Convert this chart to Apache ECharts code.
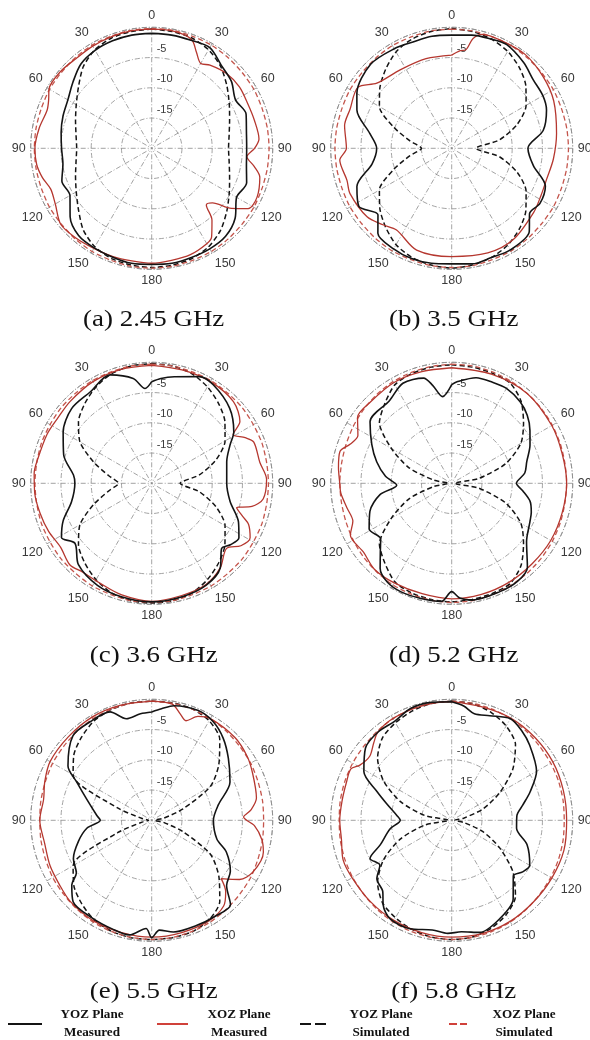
<!DOCTYPE html>
<html>
<head>
<meta charset="utf-8">
<script src="https://cdn.jsdelivr.net/npm/echarts/dist/echarts.min.js"></script>
<style>
  html, body { margin: 0; padding: 0; background: #ffffff; }
  #chart { width: 590px; height: 1040px; }
</style>
</head>
<body>
<div id="chart"></div>
<script>
// ---- angle grid (degrees, clockwise from the top) used by the simulated patterns ----
const ANGLES = [0,10,20,30,40,50,60,70,80,90,100,110,120,130,140,150,160,170,180,
                190,200,210,220,230,240,250,260,270,280,290,300,310,320,330,340,350,360];

// ---- normalised gain in dB, simulated (one value per ANGLES entry) ----
const SIM_YOZ_A = [-0.3,-0.4,-0.6,-1.2,-2.3,-3.8,-5.2,-6.3,-7.0,-7.3,-7.0,-6.3,-5.2,-3.8,-2.3,-1.2,-0.6,-0.4,-0.3,
                   -0.4,-0.6,-1.2,-2.4,-4.2,-5.6,-6.6,-7.3,-7.6,-7.3,-6.6,-5.6,-4.2,-2.4,-1.2,-0.6,-0.4,-0.3];
const SIM_XOZ_A = [-0.2,-0.2,-0.3,-0.3,-0.4,-0.5,-0.5,-0.6,-0.6,-0.6,-0.6,-0.6,-0.5,-0.5,-0.4,-0.3,-0.3,-0.2,-0.2,
                   -0.2,-0.3,-0.3,-0.4,-0.5,-0.5,-0.6,-0.6,-0.6,-0.6,-0.6,-0.5,-0.5,-0.4,-0.3,-0.3,-0.2,-0.2];
const SIM_YOZ_B = [-0.2,-0.4,-0.8,-1.5,-2.6,-4.0,-5.8,-8.5,-12.0,-16.0,-12.0,-8.5,-5.8,-4.0,-2.6,-1.5,-0.8,-0.4,-0.2,
                   -0.4,-0.8,-1.6,-3.0,-4.5,-6.2,-9.8,-13.0,-15.0,-13.0,-9.8,-6.2,-4.5,-3.0,-1.6,-0.8,-0.4,-0.2];
const SIM_XOZ_B = [-0.3,-0.3,-0.4,-0.4,-0.5,-0.6,-0.6,-0.7,-0.7,-0.7,-0.7,-0.7,-0.6,-0.6,-0.5,-0.4,-0.4,-0.3,-0.3,
                   -0.3,-0.4,-0.4,-0.5,-0.6,-0.6,-0.7,-0.7,-0.7,-0.7,-0.7,-0.6,-0.6,-0.5,-0.4,-0.4,-0.3,-0.3];
const SIM_YOZ_C = [-0.2,-0.3,-0.7,-1.6,-2.8,-4.2,-6.0,-8.7,-12.0,-15.3,-12.0,-8.7,-6.0,-4.2,-2.8,-1.6,-0.7,-0.3,-0.2,
                   -0.3,-0.7,-1.6,-2.8,-4.2,-6.3,-9.8,-12.8,-14.5,-12.8,-9.8,-6.3,-4.2,-2.8,-1.6,-0.7,-0.3,-0.2];
const SIM_XOZ_C = [-0.3,-0.3,-0.4,-0.4,-0.5,-0.5,-0.6,-0.6,-0.7,-0.7,-0.7,-0.6,-0.6,-0.5,-0.5,-0.4,-0.4,-0.3,-0.3,
                   -0.3,-0.4,-0.4,-0.5,-0.5,-0.6,-0.6,-0.7,-0.7,-0.7,-0.6,-0.6,-0.5,-0.5,-0.4,-0.4,-0.3,-0.3];
const SIM_YOZ_D = [-0.4,-0.5,-0.6,-0.8,-2.2,-4.5,-6.8,-10.5,-15.5,-19.5,-15.5,-10.5,-6.8,-4.5,-2.2,-0.8,-0.6,-0.5,-0.4,
                   -0.5,-0.7,-1.2,-2.8,-4.4,-8.5,-12.5,-17.0,-19.5,-17.0,-12.5,-8.5,-4.4,-2.8,-1.2,-0.7,-0.5,-0.4];
const SIM_XOZ_D = [-0.3,-0.3,-0.4,-0.5,-0.6,-0.7,-0.8,-0.9,-1.0,-1.0,-1.0,-0.9,-0.8,-0.7,-0.6,-0.5,-0.4,-0.3,-0.3,
                   -0.4,-0.5,-0.6,-0.8,-1.0,-1.2,-1.4,-1.5,-1.5,-1.5,-1.4,-1.2,-1.0,-0.8,-0.6,-0.5,-0.4,-0.3];
const SIM_YOZ_E = [-0.3,-0.3,-0.4,-1.0,-2.5,-5.5,-8.8,-14.5,-18.0,-19.5,-18.0,-14.5,-8.8,-5.5,-2.5,-1.0,-0.4,-0.3,-0.3,
                   -0.3,-0.5,-1.0,-2.0,-3.2,-5.0,-14.0,-18.5,-19.5,-18.5,-14.0,-5.0,-3.2,-2.0,-1.0,-0.5,-0.3,-0.3];
const SIM_XOZ_E = [-0.3,-0.35,-0.45,-0.6,-0.8,-1.0,-1.1,-1.3,-1.4,-1.5,-1.4,-1.3,-1.1,-1.0,-0.8,-0.6,-0.45,-0.35,-0.3,
                   -0.35,-0.45,-0.6,-0.8,-1.0,-1.1,-1.3,-1.4,-1.5,-1.4,-1.3,-1.1,-1.0,-0.8,-0.6,-0.45,-0.35,-0.3];
const SIM_YOZ_F = [-0.3,-0.4,-1.0,-2.0,-3.6,-6.8,-10.8,-14.5,-18.0,-19.5,-18.0,-14.5,-10.8,-6.8,-3.6,-2.0,-1.0,-0.4,-0.3,
                   -0.4,-0.8,-1.4,-2.2,-4.0,-7.0,-11.0,-15.5,-19.5,-15.5,-11.0,-7.0,-4.0,-2.2,-1.4,-0.8,-0.4,-0.3];
const SIM_XOZ_F = [-0.3,-0.35,-0.45,-0.6,-0.8,-1.0,-1.1,-1.2,-1.3,-1.4,-1.3,-1.2,-1.1,-1.0,-0.8,-0.6,-0.45,-0.35,-0.3,
                   -0.35,-0.45,-0.6,-0.8,-1.0,-1.1,-1.2,-1.3,-1.4,-1.3,-1.2,-1.1,-1.0,-0.8,-0.6,-0.45,-0.35,-0.3];

// ---- normalised gain in dB, measured: [angle (deg), gain (dB)] ----
const MEAS_YOZ_A = [[0,-1.0],[10,-1.0],[20,-1.0],[30,-0.8],[40,-2.1],[50,-2.8],[60,-4.0],[70,-3.4],[80,-4.1],[90,-4.3],
  [100,-4.1],[110,-3.3],[120,-3.8],[130,-2.0],[140,-1.0],[150,-0.8],[160,-0.8],[170,-0.7],[180,-0.8],[190,-0.7],
  [200,-0.9],[210,-1.0],[220,-1.2],[230,-2.4],[240,-4.4],[250,-4.2],[260,-5.1],[270,-5.1],[280,-4.8],[290,-4.4],
  [300,-4.0],[310,-3.0],[320,-1.8],[330,-1.3],[340,-1.1],[350,-1.0],[360,-1.0]];
const MEAS_XOZ_A = [[0,-0.3],[10,-0.3],[20,-0.8],[25,-2.5],[30,-3.8],[35,-3.2],[45,-2.5],[55,-2.3],[65,-2.5],[75,-2.4],
  [85,-2.2],[90,-3.0],[95,-4.2],[100,-2.8],[105,-1.5],[115,-0.8],[122,-1.2],[127,-3.5],[132,-6.5],[136,-7.0],
  [140,-4.5],[146,-2.3],[150,-1.8],[160,-1.3],[170,-1.2],[180,-1.0],[190,-1.1],[200,-1.0],[210,-0.9],[220,-0.6],
  [230,-0.4],[240,-1.6],[248,-2.0],[255,-1.3],[262,-0.8],[270,-0.7],[280,-1.1],[290,-1.6],[295,-1.2],[300,-0.4],
  [310,-0.3],[320,-0.6],[330,-0.5],[340,-0.4],[350,-0.3],[360,-0.3]];

const MEAS_YOZ_B = [[0,-1.3],[10,-1.0],[20,-0.8],[28,-0.6],[40,-1.5],[50,-2.4],[60,-2.6],[68,-3.1],[79,-4.6],[90,-7.4],
  [102,-6.2],[112,-3.3],[122,-2.8],[130,-3.2],[137,-1.2],[150,-0.6],[160,-0.8],[170,-0.6],[180,-0.9],[190,-0.7],
  [200,-0.6],[210,-0.8],[221,-1.4],[228,-3.6],[238,-1.9],[248,-3.1],[259,-6.6],[270,-7.6],[280,-6.3],[292,-3.1],
  [300,-1.9],[316,-0.7],[330,-1.0],[340,-1.3],[350,-1.2],[360,-1.3]];
const MEAS_XOZ_B = [[0,-4.6],[5,-3.8],[8,-3.6],[11,-1.5],[15,-0.5],[25,-0.4],[38,-0.3],[52,-0.8],[65,-1.4],[82,-2.5],
  [96,-3.1],[108,-3.5],[118,-3.3],[128,-2.8],[146,-1.8],[161,-1.7],[180,-2.1],[199,-2.2],[214,-3.7],[222,-3.0],
  [231,-2.0],[246,-1.6],[253,-1.9],[264,-1.4],[270,-2.6],[282,-1.9],[291,-2.0],[303,-1.5],[311,-3.6],[327,-4.5],
  [344,-4.6],[360,-4.6]];

const MEAS_YOZ_C = [[0,-3.2],[5,-2.6],[12,-2.0],[24,-0.7],[32,-0.8],[46,-2.1],[58,-4.0],[64,-5.6],[74,-7.1],[90,-7.6],
  [103,-6.7],[114,-4.3],[122,-3.0],[128,-3.5],[133,-4.2],[141,-2.0],[152,-0.9],[165,-0.6],[180,-0.4],[195,-0.6],
  [208,-0.9],[222,-1.9],[232,-3.9],[239,-2.6],[247,-4.1],[257,-6.4],[270,-7.3],[276,-7.0],[288,-4.7],[300,-3.1],
  [313,-1.9],[326,-1.8],[339,-0.8],[350,-2.4],[356,-4.3],[360,-3.2]];
const MEAS_XOZ_C = [[0,-0.5],[15,-0.6],[30,-0.6],[45,-0.9],[55,-2.2],[59,-4.3],[64,-2.8],[68,-1.8],[79,-1.8],[88,-1.0],
  [98,-1.4],[103,-3.0],[106,-5.4],[110,-4.0],[113,-2.6],[119,-1.4],[125,-2.0],[131,-3.6],[141,-2.0],[152,-1.0],
  [165,-0.8],[180,-0.5],[195,-0.9],[207,-1.4],[218,-1.4],[225,-0.9],[235,-1.6],[245,-1.2],[255,-0.9],[265,-0.6],
  [275,-0.5],[281,-0.7],[295,-0.9],[305,-1.1],[315,-0.9],[330,-0.6],[345,-0.5],[360,-0.5]];

const MEAS_YOZ_D = [[0,-3.7],[3,-3.2],[13,-2.1],[22,-2.0],[30,-1.9],[40,-2.4],[48,-3.2],[56,-4.4],[64,-5.6],[74,-7.1],
  [82,-7.8],[90,-9.3],[96,-8.2],[103,-6.7],[110,-6.0],[116,-5.6],[128,-4.3],[138,-1.3],[146,-0.5],[156,-0.4],
  [170,-0.4],[176,-1.0],[180,-2.1],[185,-0.4],[195,-0.3],[205,-0.2],[213,-0.5],[220,-1.6],[226,-3.6],[232,-5.1],
  [241,-4.4],[251,-5.7],[261,-8.0],[268,-10.9],[276,-9.0],[286,-7.1],[296,-5.3],[307,-3.1],[323,-2.9],[334,-1.6],
  [345,-2.0],[349,-3.5],[354,-5.6],[360,-3.7]];
const MEAS_XOZ_D = [[0,-0.9],[20,-0.8],[40,-0.6],[60,-0.9],[75,-1.1],[90,-1.0],[105,-1.1],[120,-1.1],[135,-1.2],[150,-1.1],
  [165,-1.0],[180,-0.9],[195,-1.1],[210,-1.0],[222,-0.9],[232,-1.5],[243,-1.2],[249,-2.5],[257,-2.2],[265,-1.6],
  [270,-1.5],[278,-1.1],[286,-0.8],[291,-2.0],[297,-2.6],[305,-1.0],[315,-1.0],[330,-0.8],[345,-0.9],[360,-0.9]];

const MEAS_YOZ_E = [[0,-2.1],[5,-1.5],[11,-0.7],[23,-0.3],[32,-0.8],[41,-2.0],[51,-3.7],[64,-5.6],[77,-8.7],[90,-9.8],
  [106,-8.8],[113,-6.6],[123,-4.5],[131,-3.6],[137,-0.9],[147,-1.0],[157,-1.1],[169,-1.2],[176,-1.8],[180,-0.6],
  [183,-2.1],[191,-0.7],[200,-0.9],[211,-1.1],[224,-1.3],[231,-3.0],[235,-4.8],[244,-5.6],[254,-7.4],[263,-9.2],
  [270,-11.5],[275,-10.9],[288,-8.7],[297,-6.1],[303,-3.5],[317,-0.9],[328,-0.8],[339,-0.8],[346,-2.7],[354,-2.3],
  [360,-2.1]];
const MEAS_XOZ_E = [[0,-0.3],[10,-0.5],[15,-1.8],[19,-2.6],[24,-1.2],[30,-0.6],[45,-0.6],[56,-1.0],[65,-1.6],[78,-2.3],
  [84,-3.5],[88,-4.8],[93,-3.0],[100,-1.5],[106,-0.8],[117,-1.2],[124,-2.5],[130,-5.0],[134,-3.0],[140,-1.5],
  [150,-0.9],[165,-0.8],[180,-0.7],[195,-0.8],[210,-0.8],[225,-1.0],[235,-1.4],[246,-1.6],[258,-1.9],[270,-1.5],
  [281,-1.8],[290,-1.2],[300,-0.6],[315,-0.5],[330,-0.3],[345,-0.3],[360,-0.3]];

const MEAS_YOZ_F = [[0,-0.4],[6,-1.0],[12,-2.0],[20,-1.6],[30,-0.6],[38,-1.2],[46,-2.1],[60,-3.8],[70,-6.2],[78,-8.0],
  [86,-9.2],[97,-9.2],[108,-6.9],[120,-5.1],[126,-5.5],[132,-6.3],[142,-3.5],[154,-1.9],[166,-0.9],[175,-1.5],
  [182,-1.3],[190,-1.6],[201,-0.8],[212,-0.8],[219,-2.0],[224,-3.6],[232,-4.3],[238,-6.0],[245,-5.1],[251,-7.5],
  [262,-9.7],[270,-11.5],[275,-10.9],[284,-9.0],[291,-6.8],[299,-3.4],[310,-1.4],[320,-1.0],[330,-1.1],[340,-0.3],
  [350,-0.2],[360,-0.4]];
const MEAS_XOZ_F = [[0,-0.4],[15,-0.6],[30,-0.5],[45,-0.6],[60,-0.7],[75,-0.9],[90,-1.0],[105,-0.8],[120,-0.9],[135,-0.9],
  [150,-0.7],[165,-0.6],[180,-0.7],[195,-0.8],[210,-0.9],[225,-1.0],[240,-1.0],[250,-0.9],[260,-1.5],[270,-1.5],
  [280,-1.6],[290,-1.5],[297,-1.3],[301,-2.3],[308,-2.8],[315,-1.8],[320,-1.0],[328,-0.6],[340,-0.5],[350,-0.4],
  [360,-0.4]];

// ---- panel captions and radial scale ----
const PANEL_TITLES = ['(a) 2.45 GHz', '(b) 3.5 GHz', '(c) 3.6 GHz', '(d) 5.2 GHz', '(e) 5.5 GHz', '(f) 5.8 GHz'];
const RADIUS_MIN = -20, RADIUS_MAX = 0, RADIUS_STEP = 5;
const ANGLE_STEP = 30;
const SERIES_NAMES = ['YOZ Plane Measured', 'XOZ Plane Measured', 'YOZ Plane Simulated', 'XOZ Plane Simulated'];
const LEGEND_LINES = [['YOZ Plane', 'Measured'], ['XOZ Plane', 'Measured'], ['YOZ Plane', 'Simulated'], ['XOZ Plane', 'Simulated']];

const PANELS = [
  { meas: [MEAS_YOZ_A, MEAS_XOZ_A], sim: [SIM_YOZ_A, SIM_XOZ_A] },
  { meas: [MEAS_YOZ_B, MEAS_XOZ_B], sim: [SIM_YOZ_B, SIM_XOZ_B] },
  { meas: [MEAS_YOZ_C, MEAS_XOZ_C], sim: [SIM_YOZ_C, SIM_XOZ_C] },
  { meas: [MEAS_YOZ_D, MEAS_XOZ_D], sim: [SIM_YOZ_D, SIM_XOZ_D] },
  { meas: [MEAS_YOZ_E, MEAS_XOZ_E], sim: [SIM_YOZ_E, SIM_XOZ_E] },
  { meas: [MEAS_YOZ_F, MEAS_XOZ_F], sim: [SIM_YOZ_F, SIM_XOZ_F] }
];

// ---- layout ----
const COL_X = [151.7, 451.7];
const ROW_Y = [148.3, 483.3, 820.3];
const CAPTION_Y = [320, 656, 992];
const CAPTION_DX = 2;
const PLOT_R = 121;

const BLACK = '#141414';
const RED = '#b5372f';
const RED_LIGHT = '#c4554c';
const GRID = '#8c8c8c';
const DASH_DOT = [5, 2, 1, 2];
const LABEL_FONT = 'Liberation Sans, Arial, sans-serif';

const chart = echarts.init(document.getElementById('chart'), null, { renderer: 'canvas' });

const polar = [], angleAxis = [], radiusAxis = [], series = [], graphic = [];

PANELS.forEach((p, i) => {
  const cx = COL_X[i % 2], cy = ROW_Y[Math.floor(i / 2)];
  polar.push({ center: [cx, cy], radius: PLOT_R });
  angleAxis.push({
    polarIndex: i, type: 'value', min: 0, max: 360, interval: ANGLE_STEP,
    startAngle: 90, clockwise: true,
    axisLine: { show: true, lineStyle: { color: GRID, width: 0.9, type: DASH_DOT } },
    axisTick: { show: false },
    axisLabel: {
      margin: 5, color: '#3a3a3a', fontSize: 12.5, fontFamily: LABEL_FONT,
      formatter: v => v >= 360 ? '' : String(v <= 180 ? v : 360 - v)
    },
    splitLine: { show: true, lineStyle: { color: GRID, width: 0.8, type: DASH_DOT } }
  });
  radiusAxis.push({
    polarIndex: i, type: 'value', min: RADIUS_MIN, max: RADIUS_MAX, interval: RADIUS_STEP,
    axisLine: { show: false }, axisTick: { show: false },
    axisLabel: {
      margin: -5, align: 'left', verticalAlign: 'bottom', padding: [0, 0, 3, 0],
      color: '#3a3a3a', fontSize: 11, fontFamily: LABEL_FONT,
      formatter: v => (v === RADIUS_MIN || v === RADIUS_MAX) ? '' : String(v)
    },
    splitLine: { show: true, lineStyle: { color: GRID, width: 0.8, type: DASH_DOT } }
  });

  const simData = arr => arr.map((v, k) => [v, ANGLES[k]]);
  const measData = arr => arr.map(([a, v]) => [v, a]);
  const base = { type: 'line', coordinateSystem: 'polar', polarIndex: i, symbol: 'none', animation: false, silent: true };

  series.push(Object.assign({}, base, { name: SERIES_NAMES[2], data: simData(p.sim[0]), smooth: 0.25,
    lineStyle: { color: BLACK, width: 1.5, type: [5, 3] } }));
  series.push(Object.assign({}, base, { name: SERIES_NAMES[3], data: simData(p.sim[1]), smooth: 0.25,
    lineStyle: { color: RED_LIGHT, width: 1.3, type: [5, 3] } }));
  series.push(Object.assign({}, base, { name: SERIES_NAMES[1], data: measData(p.meas[1]), smooth: 0.3,
    lineStyle: { color: RED, width: 1.3 } }));
  series.push(Object.assign({}, base, { name: SERIES_NAMES[0], data: measData(p.meas[0]), smooth: 0.3,
    lineStyle: { color: BLACK, width: 1.6 } }));

  graphic.push({
    type: 'text', x: cx + CAPTION_DX, y: CAPTION_Y[Math.floor(i / 2)], scaleX: 1.17,
    style: { text: PANEL_TITLES[i], fill: '#111', font: '23px "Liberation Serif", "Times New Roman", serif',
             textAlign: 'center', textVerticalAlign: 'middle' }
  });
});

// legend row: line samples with two-line bold captions
const LEG_LINE_X = [[8, 42], [157, 188], [300, 326], [449, 467]];
const LEG_TEXT_X = [92, 239, 381, 524];
const LEG_LINE_Y = 1024;
const LEG_TEXT_Y = [1015, 1033];
const LEG_STYLE = [
  { stroke: BLACK, lineWidth: 2 },
  { stroke: '#d0413a', lineWidth: 2 },
  { stroke: BLACK, lineWidth: 2, lineDash: [11, 4] },
  { stroke: '#d0413a', lineWidth: 2, lineDash: [8, 3] }
];
LEGEND_LINES.forEach((lines, k) => {
  graphic.push({ type: 'line', shape: { x1: LEG_LINE_X[k][0], y1: LEG_LINE_Y, x2: LEG_LINE_X[k][1], y2: LEG_LINE_Y }, style: LEG_STYLE[k] });
  lines.forEach((t, j) => {
    graphic.push({ type: 'text', x: LEG_TEXT_X[k], y: LEG_TEXT_Y[j], scaleX: 1.05,
      style: { text: t, fill: '#111', font: 'bold 12.5px "Liberation Serif", serif', textAlign: 'center', textVerticalAlign: 'middle' } });
  });
});

chart.setOption({
  backgroundColor: '#ffffff',
  animation: false,
  polar, angleAxis, radiusAxis, series, graphic
});
</script>
</body>
</html>
